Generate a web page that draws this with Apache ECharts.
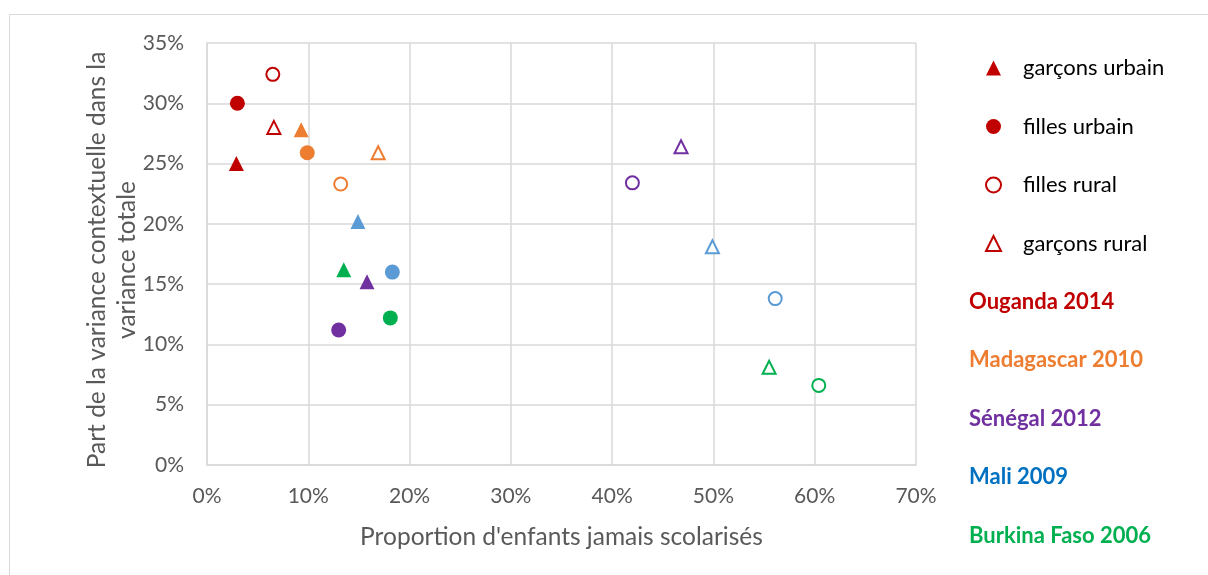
<!DOCTYPE html>
<html><head><meta charset="utf-8">
<script src="https://cdn.jsdelivr.net/npm/echarts@6/dist/echarts.min.js"></script>
<style>html,body{margin:0;padding:0;background:#fff}#c{width:1208px;height:575px}</style>
</head><body><div id="c"></div>
<script>
// ---- data (percent) ----
const countries = ['Ouganda 2014', 'Madagascar 2010', 'Sénégal 2012', 'Mali 2009', 'Burkina Faso 2006'];
const seriesNames = ['garçons urbain', 'filles urbain', 'filles rural', 'garçons rural'];
// [x = proportion jamais scolarisés, y = part de variance contextuelle], one per country
const garconsUrbain = [[2.9, 25.0], [9.3, 27.8], [15.8, 15.2], [14.9, 20.2], [13.5, 16.2]];
const fillesUrbain  = [[3.0, 30.0], [9.9, 25.9], [13.0, 11.2], [18.3, 16.0], [18.1, 12.2]];
const fillesRural   = [[6.5, 32.4], [13.2, 23.3], [42.0, 23.4], [56.1, 13.8], [60.4, 6.6]];
const garconsRural  = [[6.6, 28.0], [16.9, 25.9], [46.8, 26.4], [49.9, 18.1], [55.5, 8.1]];

const markerColors = ['#C00000', '#ED7D31', '#7030A0', '#5B9BD5', '#00B050'];
const labelColors  = ['#C00000', '#ED7D31', '#7030A0', '#0070C0', '#00B050'];
const FONT = 'Lato';

function filled(name, symbol, size, pts) {
  return {
    name, type: 'scatter', symbol, symbolSize: size,
    itemStyle: { color: '#C00000', opacity: 1 },
    data: pts.map((p, i) => ({ value: p, itemStyle: { color: markerColors[i] } })),
    emphasis: { disabled: true }
  };
}
function hollow(name, symbol, size, pts) {
  return {
    name, type: 'scatter', symbol, symbolSize: size,
    itemStyle: { color: '#ffffff', borderColor: '#C00000', borderWidth: 2, opacity: 1 },
    data: pts.map((p, i) => ({ value: p, itemStyle: { color: '#ffffff', borderColor: markerColors[i], borderWidth: 2 } })),
    emphasis: { disabled: true }
  };
}

const chart = echarts.init(document.getElementById('c'), null, { renderer: 'canvas' });
const gridLine = { show: true, lineStyle: { color: '#D9D9D9', width: 1.5 } };
chart.setOption({
  animation: false,
  textStyle: { fontFamily: FONT },
  grid: { left: 207, right: 292, top: 43, bottom: 110, containLabel: false },
  xAxis: {
    type: 'value', min: 0, max: 70, interval: 10,
    axisLine: { show: true, lineStyle: { color: '#D9D9D9', width: 1.5 } },
    axisTick: { show: false },
    splitLine: gridLine,
    axisLabel: { formatter: '{value}%', color: '#595959', fontSize: 21, margin: 21, fontFamily: FONT },
    name: "Proportion d'enfants jamais scolarisés",
    nameLocation: 'middle', nameGap: 60, nameMoveOverlap: false,
    nameTextStyle: { color: '#595959', fontSize: 24.5, fontFamily: FONT }
  },
  yAxis: {
    type: 'value', min: 0, max: 35, interval: 5,
    axisLine: { show: true, lineStyle: { color: '#D9D9D9', width: 1.5 } },
    axisTick: { show: false },
    splitLine: gridLine,
    axisLabel: { formatter: '{value}%', color: '#595959', fontSize: 21, margin: 23, fontFamily: FONT },
    name: 'Part de la variance contextuelle dans la\nvariance totale',
    nameLocation: 'middle', nameGap: 65, nameRotate: 90, nameMoveOverlap: false,
    nameTextStyle: { color: '#595959', fontSize: 24.5, lineHeight: 30, padding: [0, 12, 0, 0], fontFamily: FONT }
  },
  legend: {
    orient: 'vertical', left: 985, top: 57, padding: 0,
    itemWidth: 15, itemHeight: 15, itemGap: 36.5,
    selectedMode: false,
    data: seriesNames,
    textStyle: { color: '#000000', fontSize: 22, lineHeight: 18, padding: [0, 0, 0, 17], fontFamily: FONT }
  },
  graphic: [
    { type: 'rect', silent: true, z: -10,
      shape: { x: 9.5, y: 14.5, width: 1400, height: 800 },
      style: { fill: 'none', stroke: '#D9D9D9', lineWidth: 1 } }
  ].concat(countries.map((c, i) => ({
    type: 'text', left: 969, top: 303 + i * 58.4 - 12, silent: true,
    style: { text: c, fill: labelColors[i], font: 'bold 22px ' + FONT }
  }))),
  series: [
    filled(seriesNames[0], 'triangle', 15, garconsUrbain),
    filled(seriesNames[1], 'circle', 15, fillesUrbain),
    hollow(seriesNames[2], 'circle', 13, fillesRural),
    hollow(seriesNames[3], 'triangle', 13, garconsRural)
  ]
});
</script></body></html>
